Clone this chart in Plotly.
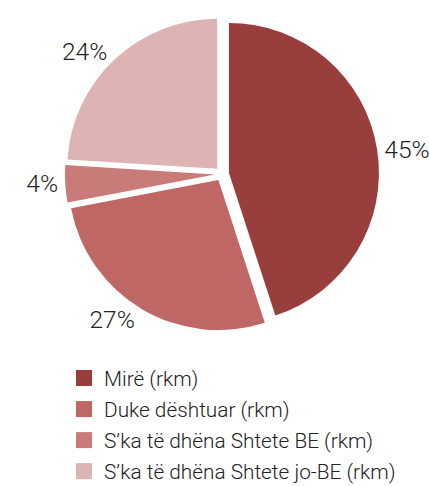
import plotly.graph_objects as go

labels = ["Mirë (rkm)", "Duke dështuar (rkm)", "S'ka të dhëna Shtete BE (rkm)", "S'ka të dhëna Shtete jo-BE (rkm)"]
labels = [l.replace("'", "\u2019") for l in labels]
values = [45, 27, 4, 24]
colors = ["#983F3E", "#BE6765", "#C97B79", "#DEB3B3"]

W, H = 429, 486
cx, cy, r, pull = 222, 174, 150, 0.047
half = r * (1 + pull)

fig = go.Figure()
fig.add_trace(go.Pie(
    labels=labels, values=values, sort=False, direction="clockwise", rotation=0,
    marker=dict(colors=colors, line=dict(width=0)),
    pull=[pull] * 4,
    texttemplate="%{percent:.0%}", textposition="outside",
    textfont=dict(family="Roboto", size=24.5, color="#222222", weight=300),
    domain=dict(x=[(cx - half) / W, (cx + half) / W], y=[(H - cy - half) / H, (H - cy + half) / H]),
    hoverinfo="skip", showlegend=False,
))
# legend entries (one per slice, same labels/colours)
for lab, col in zip(labels, colors):
    fig.add_trace(go.Scatter(
        x=[None], y=[None], mode="markers", name=lab, legendgroup=lab,
        marker=dict(symbol="square", size=16, color=col), hoverinfo="skip",
    ))
fig.update_xaxes(visible=False)
fig.update_yaxes(visible=False)
fig.update_layout(
    width=W, height=H, margin=dict(l=0, r=0, t=0, b=0, autoexpand=False),
    paper_bgcolor="white", plot_bgcolor="white",
    showlegend=True,
    legend=dict(x=64 / W, y=1 - 358 / H, xanchor="left", yanchor="top", orientation="v",
                font=dict(family="Roboto", size=20.8, color="#222222", weight=300),
                tracegroupgap=1, itemsizing="trace",
                bgcolor="rgba(0,0,0,0)"),
)
fig.write_html("out.html", config={"displayModeBar": False},
               post_script="document.body.style.margin='0';document.body.style.overflow='hidden';")
